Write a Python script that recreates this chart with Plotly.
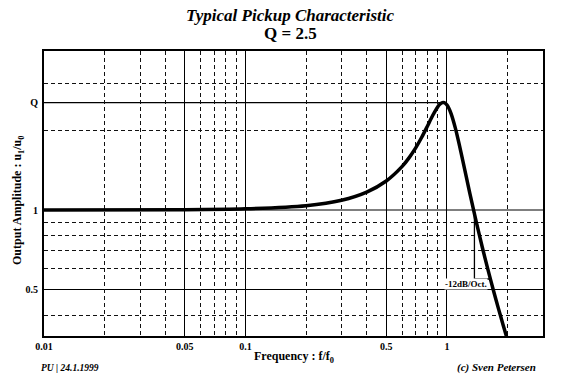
import math
import plotly.graph_objects as go

# ---- data ----
freq = [0.01, 0.05, 0.1, 0.2, 0.3, 0.4, 0.5, 0.6, 0.65, 0.7, 0.75, 0.8, 0.85, 0.9, 0.92,
        0.95, 0.97, 1.0, 1.02, 1.05, 1.1, 1.15, 1.2, 1.25, 1.3, 1.4, 1.5, 1.6, 1.7, 1.8, 1.9, 2.0]
amplitude = [1.0, 1.002, 1.01, 1.038, 1.089, 1.169, 1.288, 1.463, 1.579, 1.719, 1.885, 2.076,
             2.279, 2.457, 2.508, 2.549, 2.548, 2.5, 2.439, 2.313, 2.051, 1.78, 1.536, 1.329,
             1.157, 0.9, 0.721, 0.593, 0.498, 0.425, 0.368, 0.322]

q_level = 2.55          # "Q" reference line (peak)
q_peak_freq = 0.95

x_major = [0.01, 0.05, 0.1, 0.5, 1]
x_major_labels = ["0.01", "0.05", "0.1", "0.5", "1"]
x_minor = [0.02, 0.03, 0.04, 0.06, 0.07, 0.08, 0.09, 0.2, 0.3, 0.4, 0.6, 0.7, 0.8, 0.9, 2]

y_major = [0.5, 1, q_level]
y_major_labels = ["0.5", "1", "Q"]
y_minor = [0.4, 0.6, 0.7, 0.8, 0.9, 2, 3]

slope_x = [1.37, 1.37, 1.63]
slope_y = [0.965, 0.548, 0.548]

x_range = [0.01, 3]
y_range = [1 / 3, 4]

FONT = "Liberation Serif"

fig = go.Figure()

# slope triangle
fig.add_trace(go.Scatter(x=slope_x, y=slope_y, mode="lines",
                         line=dict(color="black", width=1.3), hoverinfo="skip"))
# response curve
fig.add_trace(go.Scatter(x=freq, y=amplitude, mode="lines",
                         line=dict(color="black", width=3.5, shape="spline", smoothing=0.6)))

# solid horizontal reference lines
for yv in [0.5, 1]:
    fig.add_shape(type="line", xref="paper", x0=0, x1=1, yref="y", y0=yv, y1=yv,
                  line=dict(color="black", width=1.2), layer="below")
fig.add_shape(type="line", xref="x", x0=x_range[0], x1=q_peak_freq, yref="y", y0=q_level, y1=q_level,
              line=dict(color="black", width=1.4), layer="below")

fig.update_layout(
    width=565, height=378,
    margin=dict(l=44, r=22, t=51, b=42),
    paper_bgcolor="white", plot_bgcolor="white",
    showlegend=False,
    font=dict(family=FONT, color="black"),
    xaxis=dict(
        type="log", range=[math.log10(x_range[0]), math.log10(x_range[1])],
        tickmode="array", tickvals=x_major, ticktext=x_major_labels,
        tickfont=dict(family=FONT, size=10, weight="bold"),
        showgrid=True, gridcolor="black", gridwidth=1,
        ticks="", ticklabelstandoff=0,
        showline=True, linecolor="black", linewidth=2, mirror=True,
        zeroline=False,
        minor=dict(tickmode="array", tickvals=x_minor, showgrid=True,
                   gridcolor="#111", gridwidth=1, griddash="4px,3px", ticks=""),
    ),
    yaxis=dict(
        type="log", range=[math.log10(y_range[0]), math.log10(y_range[1])],
        tickmode="array", tickvals=y_major, ticktext=y_major_labels,
        tickfont=dict(family=FONT, size=10, weight="bold"),
        showgrid=False, ticks="", ticklabelstandoff=2,
        showline=True, linecolor="black", linewidth=2, mirror=True,
        zeroline=False,
        minor=dict(tickmode="array", tickvals=y_minor, showgrid=True,
                   gridcolor="#111", gridwidth=1, griddash="4px,3px", ticks=""),
    ),
)

ann = [
    dict(text="<b><i>Typical Pickup Characteristic</i></b>", x=0.493, y=1.123, size=17),
    dict(text="<b>Q = 2.5</b>", x=0.493, y=1.063, size=17),
    dict(text="<b>Frequency : f/f<sub>0</sub></b>", x=0.5, y=-0.074, size=12),
]
for a in ann:
    fig.add_annotation(text=a["text"], x=a["x"], y=a["y"], xref="paper", yref="paper",
                       showarrow=False, font=dict(family=FONT, size=a["size"], color="black"),
                       xanchor="center", yanchor="middle")

fig.add_annotation(text="<b>Output Amplitude : u<sub>1</sub>/u<sub>0</sub></b>", x=-0.052, y=0.474,
                   xref="paper", yref="paper", showarrow=False, textangle=-90,
                   font=dict(family=FONT, size=12, color="black"), xanchor="center", yanchor="middle")
fig.add_annotation(text="<b><i>PU | 24.1.1999</i></b>", x=-0.01, y=-0.112, xref="paper", yref="paper",
                   showarrow=False, font=dict(family=FONT, size=9.5, color="black"),
                   xanchor="left", yanchor="middle")
fig.add_annotation(text="<b><i>(c) Sven Petersen</i></b>", x=0.99, y=-0.112, xref="paper", yref="paper",
                   showarrow=False, font=dict(family=FONT, size=11, color="black"),
                   xanchor="right", yanchor="middle")
fig.add_annotation(text="<b>-12dB/Oct.</b>", x=math.log10(1.238), y=math.log10(0.524),
                   xref="x", yref="y", showarrow=False, bgcolor="white", borderpad=0,
                   font=dict(family=FONT, size=9, color="black"),
                   xanchor="center", yanchor="middle")

fig.write_html("out.html", config={"displayModeBar": False},
               post_script="document.body.style.margin='0px';")
